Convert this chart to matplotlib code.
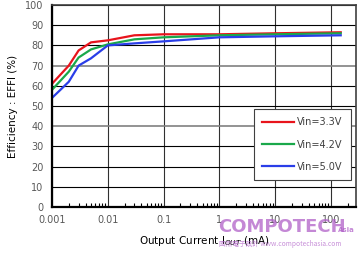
import matplotlib
matplotlib.use("Agg")
import matplotlib.pyplot as plt
from matplotlib.ticker import LogLocator, NullFormatter, FixedLocator, FixedFormatter

current = [0.001, 0.002, 0.003, 0.005, 0.01, 0.03, 0.1, 1, 10, 150]
eff_33 = [61, 70, 77.5, 81.5, 82.5, 85, 85.5, 85.5, 86, 86.5]
eff_42 = [58, 67, 74, 78, 80.5, 83, 84, 85, 85.5, 86]
eff_50 = [54, 62, 70, 73.6, 80, 81, 82, 84, 84.5, 85]
labels = ["Vin=3.3V", "Vin=4.2V", "Vin=5.0V"]
colors = ["#e8141c", "#1aa84a", "#2a3ee8"]
xticks = [0.001, 0.01, 0.1, 1, 10, 100]
xticklabels = ["0.001", "0.01", "0.1", "1", "10", "100"]
yticks = list(range(0, 101, 10))

plt.rcParams['font.family'] = ['DejaVu Sans']
fig = plt.figure(figsize=(3.59, 2.54), dpi=100)
ax = fig.add_axes([52/359, 1-207/254, (356-52)/359, (207-5)/254])

for y, lab, c in zip([eff_33, eff_42, eff_50], labels, colors):
    ax.plot(current, y, color=c, lw=1.6, label=lab)

ax.set_xscale('log')
ax.set_xlim(0.001, 10**2.45)
ax.set_ylim(0, 100)
ax.xaxis.set_major_locator(FixedLocator(xticks))
ax.xaxis.set_major_formatter(FixedFormatter(xticklabels))
ax.xaxis.set_minor_locator(LogLocator(base=10, subs=range(2, 10)))
ax.xaxis.set_minor_formatter(NullFormatter())
ax.set_yticks(yticks)
ax.grid(True, which='major', color='black', lw=0.8)
for g, v in zip(ax.get_ygridlines(), yticks):
    if v in (40, 70):
        g.set_color('#808080')
        g.set_linewidth(1.2)
for g in ax.get_xgridlines():
    g.set_color('#303030')
ax.tick_params(axis='both', which='major', length=0, labelsize=7, labelcolor='#595959', pad=6)
ax.tick_params(axis='x', which='minor', direction='in', length=3, width=0.8, bottom=True)
for s in ['left', 'bottom']:
    ax.spines[s].set_linewidth(1.6)
for s in ['top', 'right']:
    ax.spines[s].set_linewidth(1.2)
    ax.spines[s].set_color('#404040')

ax.set_ylabel("Efficiency : EFFI (%)", fontsize=7.5, labelpad=5)
ax.set_xlabel("Output Current I$_{OUT}$ (mA)", fontsize=7.5, labelpad=6)

leg = ax.legend(loc='lower right', bbox_to_anchor=(0.984, 0.134), fontsize=7, frameon=True,
                fancybox=False, edgecolor='#404040', handlelength=3.3, labelspacing=1.25,
                borderpad=0.85, handletextpad=0.3, framealpha=1, labelcolor='#404040',
                borderaxespad=0)
leg.get_frame().set_linewidth(0.8)

wm = '#b060c8'
fig.text(218/359, 1-232/254, "COMPOTECH", color=wm, alpha=0.75, fontsize=13,
         fontweight='bold', va='baseline')
fig.text(338/359, 1-232/254, "Asia", color=wm, alpha=0.75, fontsize=5, fontweight='bold',
         va='baseline')
fig.text(219/359, 1-246/254, "國際電子設計 www.compotechasia.com", color=wm, alpha=0.7,
         fontsize=4.8, family=['Noto Sans CJK TC', 'DejaVu Sans'], va='baseline')

fig.savefig("out.png", dpi=100)
